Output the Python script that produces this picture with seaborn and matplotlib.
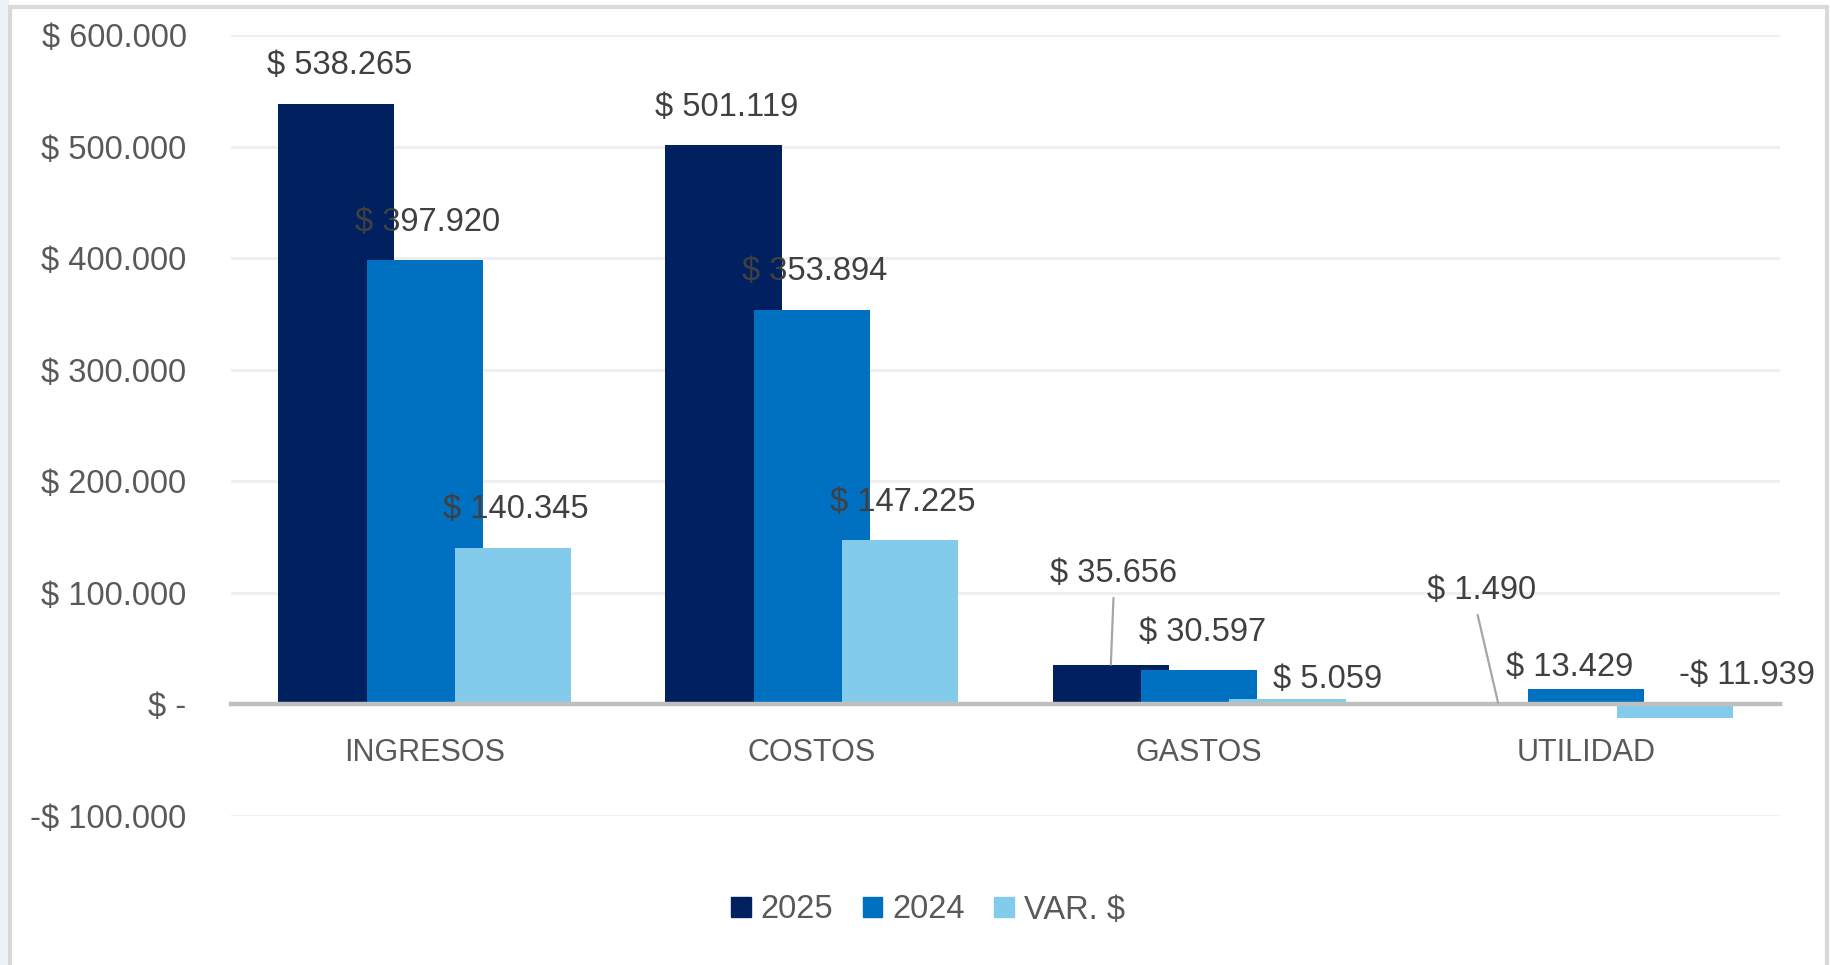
import numpy as np
import matplotlib
matplotlib.use("Agg")
import matplotlib.pyplot as plt
from matplotlib.patches import Patch, Rectangle
from matplotlib.ticker import FuncFormatter
import seaborn as sns

# Data
categories = ["INGRESOS", "COSTOS", "GASTOS", "UTILIDAD"]
series_names = ["2025", "2024", "VAR. $"]
vals_2025 = [538265, 501119, 35656, 1490]
vals_2024 = [397920, 353894, 30597, 13429]
vals_var = [140345, 147225, 5059, -11939]
yticks = [-100000, 0, 100000, 200000, 300000, 400000, 500000, 600000]

colors = ["#002060", "#0070C0", "#83CBEB"]
series = [vals_2025, vals_2024, vals_var]
offsets = [-0.228, 0.0, 0.228]


def money(v):
    if v == 0:
        return "$ -"
    s = f"{abs(v):,.0f}".replace(",", ".")
    return ("-$ " if v < 0 else "$ ") + s


sns.set_style("white")
plt.rcParams["font.family"] = ["Liberation Sans", "DejaVu Sans"]
NUM_FS = 23.5

fig = plt.figure(figsize=(18.3, 9.65), dpi=100)
ax = fig.add_axes([231 / 1830, 1 - 816 / 965, (1780 - 231) / 1830, (816 - 35) / 965])

pos = np.arange(len(categories))
for vals, off, col in zip(series, offsets, colors):
    sns.barplot(x=pos + off, y=vals, native_scale=True, width=0.30,
                color=col, saturation=1, ax=ax, linewidth=0, zorder=2)

ax.set_xlim(-0.5, 3.5)
ax.set_ylim(-100000, 600000)
ax.set_yticks(yticks)
ax.yaxis.set_major_formatter(FuncFormatter(lambda v, p: money(v)))
ax.set_xticks(pos)
ax.set_xticklabels(categories)
ax.set_xlabel("")
ax.set_ylabel("")

# grid + zero axis line
ax.grid(axis="y", color="#EFEFEF", lw=2.2, zorder=0)
ax.set_axisbelow(True)
for s in ["top", "right", "left"]:
    ax.spines[s].set_visible(False)
ax.spines["bottom"].set_position(("data", 0))
ax.spines["bottom"].set_color("#BFBFBF")
ax.spines["bottom"].set_linewidth(3.2)
ax.spines["bottom"].set_zorder(3)
ax.tick_params(axis="x", length=0, pad=24, labelsize=22, labelcolor="#595959")
ax.tick_params(axis="y", length=0, pad=32, labelsize=NUM_FS, labelcolor="#595959")

# data labels (offsets in pixels from bar end)
label_offsets = {
    (2, 0): (3, 91),
    (2, 2): (40, 19),
    (3, 0): (-17, 112),
    (3, 1): (-17, 22),
    (3, 2): (72, 42),
}
leaders = {(2, 0): (0.5, 0), (3, 0): (0.45, 0)}
for si, (vals, off) in enumerate(zip(series, offsets)):
    for ci, v in enumerate(vals):
        dx, dy = label_offsets.get((ci, si), (3, 38))
        arrow = None
        if (ci, si) in leaders:
            arrow = dict(arrowstyle="-", color="#A6A6A6", lw=1.6,
                         relpos=leaders[(ci, si)], shrinkA=4, shrinkB=0)
        ax.annotate(money(v), xy=(ci + off, v), xytext=(dx, dy),
                    textcoords="offset pixels", ha="center", va="center",
                    fontsize=NUM_FS, color="#404040", arrowprops=arrow, zorder=5)

# legend
handles = [Patch(facecolor=c, edgecolor=c) for c in colors]
fig.legend(handles, series_names, loc="center", bbox_to_anchor=(928 / 1830, 1 - 910 / 965),
           ncol=3, frameon=False, fontsize=NUM_FS, handlelength=0.6, handleheight=0.6,
           handletextpad=0.3, columnspacing=0.9, labelcolor="#595959")

# outer frame
fig.patches.append(Rectangle((0, 0), 9 / 1830, 1, transform=fig.transFigure,
                             facecolor="#EEF2F7", edgecolor="none", zorder=0))
fig.patches.append(Rectangle((10 / 1830, -0.02), (1827 - 10) / 1830, 1.02 - 7 / 965,
                             transform=fig.transFigure, fill=False,
                             edgecolor="#D9D9D9", lw=3, zorder=1))

fig.savefig("out.png", dpi=100)
